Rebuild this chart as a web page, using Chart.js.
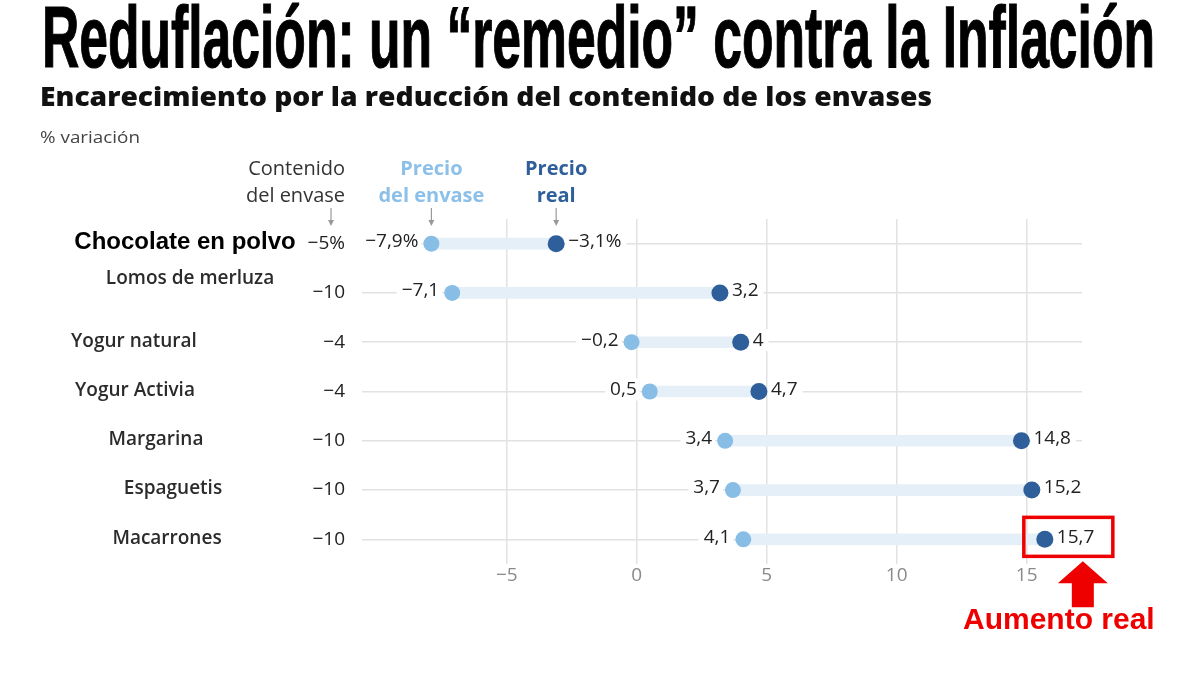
<!DOCTYPE html>
<html><head><meta charset="utf-8">
<script src="https://cdn.jsdelivr.net/npm/chart.js@4.4.1/dist/chart.umd.min.js"></script>
<style>
html,body{margin:0;padding:0;background:#fff;width:1200px;height:675px;overflow:hidden;}
#wrap{position:absolute;left:0;top:0;width:1200px;height:675px;}
.t{position:absolute;white-space:nowrap;transform-origin:0 0;z-index:2;}
#title{left:42px;top:-7px;font-family:"Liberation Sans Narrow","Liberation Sans",Arial,sans-serif;font-weight:bold;font-size:88px;line-height:88px;color:#000;-webkit-text-stroke:1.2px #000;}
#sub{left:40px;top:79px;font-family:"Open Sans",sans-serif;font-weight:800;font-size:26px;line-height:34px;color:#111;}
#var{left:40px;top:126px;font-family:"Open Sans",sans-serif;font-size:17px;line-height:22px;color:#444;}
#aum{left:963px;top:601px;font-family:"Liberation Sans",Arial,sans-serif;font-weight:bold;font-size:30px;line-height:36px;color:#ee0000;}
</style></head>
<body>
<div id="wrap"><canvas id="c"></canvas></div>
<div class="t" id="title">Reduflación: un “remedio” contra la Inflación</div>
<div class="t" id="sub">Encarecimiento por la reducción del contenido de los envases</div>
<div class="t" id="var">% variación</div>
<div class="t" id="aum">Aumento real</div>
<script>
const products = ['Chocolate en polvo','Lomos de merluza','Yogur natural','Yogur Activia','Margarina','Espaguetis','Macarrones'];
const contentLabels = ['−5%','−10','−4','−4','−10','−10','−10'];
const envPrice = [-7.9,-7.1,-0.2,0.5,3.4,3.7,4.1];
const realPrice = [-3.1,3.2,4,4.7,14.8,15.2,15.7];
const xTicks = [-5,0,5,10,15];

// layout (not data)
const nameCenterX = [185,190,134,135,156,173,167];
const nameDy = [0,-13,0,0,0,0,0];

const FONT = '"Open Sans", sans-serif';
function fmt(v,i){
  let s = String(Math.abs(v)).replace('.',',');
  if (v<0) s = '−'+s;
  if (i===0) s += '%';
  return s;
}

function fitWidth(id,w){
  const el=document.getElementById(id);
  const r=el.getBoundingClientRect().width;
  el.style.transform='scaleX('+(w/r)+')';
}
fitWidth('title',1113);
fitWidth('sub',892);
fitWidth('var',100);

const overlay = {
  id:'overlay',
  afterDatasetsDraw(chart){
    const ctx=chart.ctx, xs=chart.scales.x, ys=chart.scales.y;
    ctx.save();
    ctx.font='19px '+FONT;
    ctx.textBaseline='middle';
    for(let i=0;i<products.length;i++){
      const y=ys.getPixelForValue(i)-2;
      let t=fmt(envPrice[i],i), w=ctx.measureText(t).width;
      let x=xs.getPixelForValue(envPrice[i])-13;
      ctx.fillStyle='#fff'; ctx.fillRect(x-w-5,y-11,w+8,22);
      ctx.fillStyle='#222'; ctx.textAlign='right'; ctx.fillText(t,x,y);
      t=fmt(realPrice[i],i); w=ctx.measureText(t).width;
      x=xs.getPixelForValue(realPrice[i])+12;
      ctx.fillStyle='#fff'; ctx.fillRect(x-3,y-11,w+8,22);
      ctx.fillStyle='#222'; ctx.textAlign='left'; ctx.fillText(t,x,y);
    }
    ctx.restore();
  },
  afterDraw(chart){
    const ctx=chart.ctx, xs=chart.scales.x, ys=chart.scales.y;
    ctx.save();
    ctx.textBaseline='middle'; ctx.textAlign='center';
    for(let i=0;i<products.length;i++){
      const y=ys.getPixelForValue(i)+nameDy[i]-1;
      if(i===0){ ctx.font='bold 24px "Liberation Sans", Arial, sans-serif'; ctx.fillStyle='#000'; }
      else { ctx.font='600 19px '+FONT; ctx.fillStyle='#2b2b2b'; }
      ctx.fillText(products[i],nameCenterX[i],y);
    }
    const xe=xs.getPixelForValue(envPrice[0]), xr=xs.getPixelForValue(realPrice[0]);
    ctx.font='20px '+FONT; ctx.fillStyle='#333'; ctx.textAlign='right';
    ctx.fillText('Contenido',345,169); ctx.fillText('del envase',345,196);
    ctx.font='bold 20px '+FONT; ctx.textAlign='center';
    ctx.fillStyle='#8cc0e8'; ctx.fillText('Precio',xe,169); ctx.fillText('del envase',xe,196);
    ctx.fillStyle='#2f5f9a'; ctx.fillText('Precio',xr,169); ctx.fillText('real',xr,196);
    ctx.strokeStyle='#999'; ctx.fillStyle='#999'; ctx.lineWidth=1.2;
    [331,xe,xr].forEach(x=>{
      ctx.beginPath(); ctx.moveTo(x,208); ctx.lineTo(x,224); ctx.stroke();
      ctx.beginPath(); ctx.moveTo(x-3,220); ctx.lineTo(x+3,220); ctx.lineTo(x,226); ctx.closePath(); ctx.fill();
    });
    const last=products.length-1;
    const px=xs.getPixelForValue(realPrice[last]), py=ys.getPixelForValue(last);
    ctx.strokeStyle='#ee0000'; ctx.lineWidth=3.5;
    ctx.strokeRect(px-21,py-22,89,39);
    const ax=px+38;
    ctx.fillStyle='#ee0000';
    ctx.beginPath();
    ctx.moveTo(ax,py+22); ctx.lineTo(ax+25,py+44); ctx.lineTo(ax+11,py+44); ctx.lineTo(ax+11,py+68);
    ctx.lineTo(ax-11,py+68); ctx.lineTo(ax-11,py+44); ctx.lineTo(ax-25,py+44); ctx.closePath(); ctx.fill();
    ctx.restore();
  }
};

new Chart(document.getElementById('c'),{
  type:'bar',
  data:{
    labels:products,
    datasets:[
      {type:'bar',data:envPrice.map((v,i)=>[v,realPrice[i]]),backgroundColor:'#e5eff8',barThickness:11,borderSkipped:false,order:3},
      {type:'scatter',data:envPrice.map((v,i)=>({x:v,y:products[i]})),pointRadius:8,pointHoverRadius:8,pointBackgroundColor:'#88bde6',pointBorderWidth:0,order:2},
      {type:'scatter',data:realPrice.map((v,i)=>({x:v,y:products[i]})),pointRadius:8.5,pointHoverRadius:8.5,pointBackgroundColor:'#2f5f9a',pointBorderWidth:0,order:1}
    ]
  },
  options:{
    indexAxis:'y',responsive:true,maintainAspectRatio:false,animation:false,
    layout:{padding:{left:0,right:118,top:219,bottom:81}},
    plugins:{legend:{display:false},tooltip:{enabled:false}},
    scales:{
      x:{type:'linear',min:-10.57,max:17.13,position:'bottom',
        grid:{color:'#e2e2e2',lineWidth:1.5,drawTicks:false},border:{display:false},
        afterBuildTicks:s=>{s.ticks=xTicks.map(v=>({value:v}));},
        ticks:{color:'#8a8a8a',font:{family:FONT,size:19},padding:0,callback:v=>v<0?'−'+Math.abs(v):String(v)},
        afterFit:s=>{s.height=30;}},
      y:{type:'category',offset:true,
        grid:{offset:false,color:'#e2e2e2',lineWidth:1.5,drawTicks:false},border:{display:false},
        ticks:{callback:(v,i)=>contentLabels[i],color:'#222',font:{family:FONT,size:19},padding:17},
        afterFit:s=>{s.width=362;}}
    }
  },
  plugins:[overlay]
});
</script>
</body></html>
